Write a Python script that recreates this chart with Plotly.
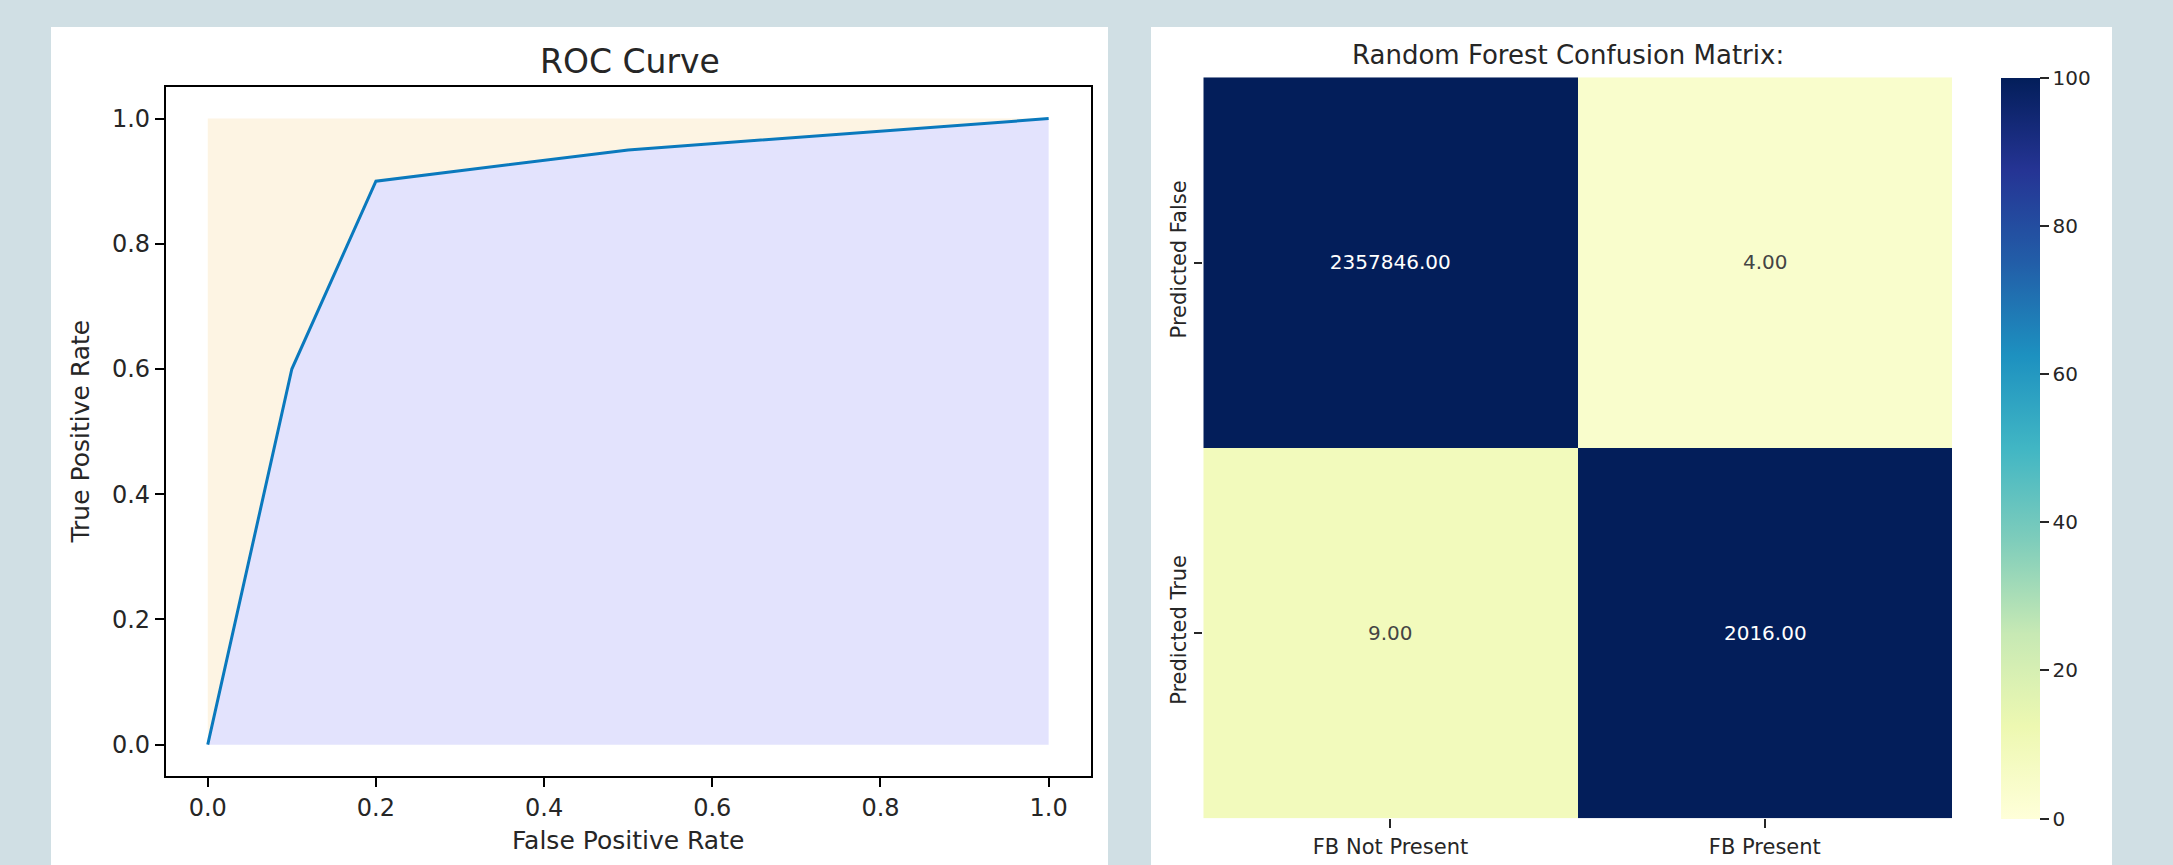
import plotly.graph_objects as go

# ---------------- data ----------------
fpr = [0.0, 0.1, 0.2, 0.5, 1.0]
tpr = [0.0, 0.6, 0.9, 0.95, 1.0]
upper = [1.0, 1.0, 1.0, 1.0, 1.0]

cm_rows = ["Predicted False", "Predicted True"]
cm_cols = ["FB Not Present", "FB Present"]
cm_values = [[2357846, 4], [9, 2016]]
cbar_ticks = [0, 20, 40, 60, 80, 100]

ylgnbu = ['#ffffd9', '#edf8b1', '#c7e9b4', '#7fcdbb', '#41b6c4',
          '#1d91c0', '#225ea8', '#253494', '#031e5a']

# ---------------- geometry (pixels) ----------------
W, H = 2173, 865
def px(x):
    return x / W
def py(y):
    return 1 - y / H

BG = '#d0dfe4'
TXT = '#262626'
FONT = 'DejaVu Sans'

fig = go.Figure()

# ROC fills and line
fig.add_trace(go.Scatter(x=fpr, y=upper, mode='lines', line=dict(width=0),
                         hoverinfo='skip', showlegend=False, xaxis='x', yaxis='y'))
fig.add_trace(go.Scatter(x=fpr, y=tpr, mode='lines', line=dict(width=0),
                         fill='tonexty', fillcolor='rgb(253,244,227)',
                         hoverinfo='skip', showlegend=False, xaxis='x', yaxis='y'))
fig.add_trace(go.Scatter(x=fpr, y=tpr, mode='lines', fill='tozeroy',
                         fillcolor='rgb(227,227,253)',
                         line=dict(color='#0a79bd', width=3),
                         showlegend=False, xaxis='x', yaxis='y'))

# Confusion matrix heatmap
cscale = [[i / (len(ylgnbu) - 1), c] for i, c in enumerate(ylgnbu)]
fig.add_trace(go.Heatmap(
    z=cm_values, x=cm_cols, y=cm_rows, xaxis='x2', yaxis='y2',
    colorscale=cscale, zmin=0, zmax=100,
    texttemplate='%{z:.2f}', textfont=dict(size=20, family=FONT),
    colorbar=dict(
        x=px(2000.7), xanchor='left', xref='paper',
        y=py((77.3 + 818.7) / 2), yanchor='middle',
        thicknessmode='pixels', thickness=38.5,
        lenmode='pixels', len=741.4,
        xpad=0, ypad=0, outlinewidth=0,
        tickmode='array', tickvals=cbar_ticks,
        ticks='outside', ticklen=9, tickwidth=1.5, tickcolor=TXT,
        tickfont=dict(size=20, color=TXT, family=FONT),
    ),
))

# white panels
shapes = [
    dict(type='rect', xref='paper', yref='paper', x0=px(51), x1=px(1108),
         y0=py(865), y1=py(27), fillcolor='white', line=dict(width=0), layer='below'),
    dict(type='rect', xref='paper', yref='paper', x0=px(1151), x1=px(2112),
         y0=py(865), y1=py(27), fillcolor='white', line=dict(width=0), layer='below'),
]

annotations = [
    dict(text='ROC Curve', x=px(630), y=py(61), xref='paper', yref='paper',
         showarrow=False, xanchor='center', yanchor='middle',
         font=dict(size=33, color=TXT, family=FONT)),
    dict(text='False Positive Rate', x=px(628), y=py(840), xref='paper', yref='paper',
         showarrow=False, xanchor='center', yanchor='middle',
         font=dict(size=25, color=TXT, family=FONT)),
    dict(text='True Positive Rate', x=px(80), y=py(431.5), xref='paper', yref='paper',
         showarrow=False, xanchor='center', yanchor='middle', textangle=-90,
         font=dict(size=25, color=TXT, family=FONT)),
    dict(text='Random Forest Confusion Matrix:', x=px(1568), y=py(55), xref='paper', yref='paper',
         showarrow=False, xanchor='center', yanchor='middle',
         font=dict(size=26, color=TXT, family=FONT)),
]

roc_ticks = [0.0, 0.2, 0.4, 0.6, 0.8, 1.0]
roc_axis_common = dict(
    range=[-0.05, 1.05], tickmode='array', tickvals=roc_ticks,
    tickformat='.1f', showgrid=False, zeroline=False,
    showline=True, linecolor='black', linewidth=1.6, mirror=True,
    ticks='outside', ticklen=9, tickwidth=1.6, tickcolor='black',
    tickfont=dict(size=24, color=TXT, family=FONT),
)

fig.update_layout(
    width=W, height=H,
    margin=dict(l=0, r=0, t=0, b=0),
    paper_bgcolor=BG, plot_bgcolor='white',
    showlegend=False,
    shapes=shapes, annotations=annotations,
    xaxis=dict(domain=[px(165.7), px(1090.7)], anchor='y', **roc_axis_common),
    yaxis=dict(domain=[py(776), py(87.3)], anchor='x', **roc_axis_common),
    xaxis2=dict(domain=[px(1203.3), px(1952)], anchor='y2', showgrid=False,
                zeroline=False, showline=False, ticks='outside', ticklen=9,
                tickwidth=1.5, tickcolor=TXT,
                tickfont=dict(size=21, color=TXT, family=FONT)),
    yaxis2=dict(domain=[py(818.3), py(77.3)], anchor='x2', showgrid=False,
                zeroline=False, showline=False, autorange='reversed',
                ticks='outside', ticklen=8, tickwidth=1.5, tickcolor=TXT,
                tickangle=-90,
                tickfont=dict(size=21, color=TXT, family=FONT)),
)

fig.write_html(
    'out.html',
    config={'displayModeBar': False},
    post_script="document.body.style.margin='0';document.body.style.background='%s';" % BG,
)
